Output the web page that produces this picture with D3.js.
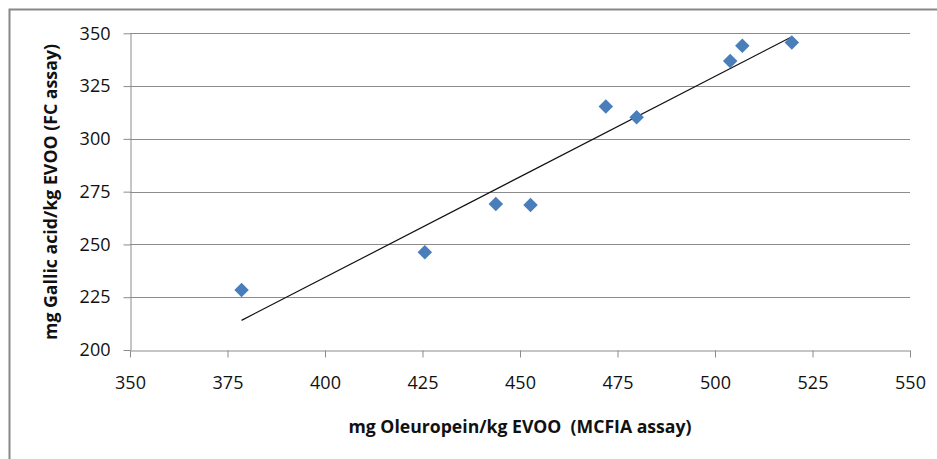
<!DOCTYPE html>
<html><head><meta charset="utf-8">
<script src="https://cdn.jsdelivr.net/npm/d3@7"></script>
<style>html,body{margin:0;padding:0;background:#fff;}svg{display:block;}</style>
</head><body>
<script>
const oleuropein = [378.6, 425.6, 443.8, 452.7, 472.0, 479.9, 503.9, 507.0, 519.7];
const gallicAcid = [228.4, 246.3, 269.2, 268.7, 315.3, 310.2, 336.9, 344.1, 345.7];
const xTicks = [350, 375, 400, 425, 450, 475, 500, 525, 550];
const yTicks = [200, 225, 250, 275, 300, 325, 350];
const xTitle = "mg Oleuropein/kg EVOO  (MCFIA assay)";
const yTitle = "mg Gallic acid/kg EVOO (FC assay)";

const W = 937, H = 459;
const svg = d3.select("body").append("svg").attr("width", W).attr("height", H);
const font = "'Open Sans', 'Noto Sans', sans-serif";

// outer frame
svg.append("rect").attr("x", 9.5).attr("y", 9.5).attr("width", W + 20).attr("height", H + 20)
  .attr("fill", "none").attr("stroke", "#878787").attr("stroke-width", 2);

const x = d3.scaleLinear().domain([350, 550]).range([130, 910]);
const y = d3.scaleLinear().domain([200, 350]).range([350, 33.3]);

// gridlines
svg.append("g").selectAll("line").data(yTicks.filter(t => t !== 200)).join("line")
  .attr("x1", x(350)).attr("x2", x(550))
  .attr("y1", d => Math.round(y(d)) + 0.5).attr("y2", d => Math.round(y(d)) + 0.5)
  .attr("stroke", "#8c8c8c").attr("stroke-width", 1);

// axes
const xAxis = svg.append("g").attr("transform", `translate(0,${Math.round(y(200)) + 0.5})`)
  .call(d3.axisBottom(x).tickValues(xTicks).tickSize(7).tickPadding(19).tickSizeOuter(0));
const yAxis = svg.append("g").attr("transform", `translate(${x(350) + 0.5},0)`)
  .call(d3.axisLeft(y).tickValues(yTicks).tickSize(7).tickPadding(13).tickSizeOuter(0));
[xAxis, yAxis].forEach(g => {
  g.select(".domain").attr("stroke", "#8c8c8c");
  g.selectAll(".tick line").attr("stroke", "#8c8c8c");
  g.selectAll(".tick text").attr("fill", "#111").style("font-family", font).style("font-size", "18px");
});

// trend line (least squares)
const mx = d3.mean(oleuropein), my = d3.mean(gallicAcid);
const sxy = d3.sum(oleuropein, (v, i) => (v - mx) * (gallicAcid[i] - my));
const sxx = d3.sum(oleuropein, v => (v - mx) ** 2);
const slope = sxy / sxx, icpt = my - slope * mx;
const [xmin, xmax] = d3.extent(oleuropein);
svg.append("line")
  .attr("x1", x(xmin)).attr("y1", y(icpt + slope * xmin))
  .attr("x2", x(xmax)).attr("y2", y(icpt + slope * xmax))
  .attr("stroke", "#111").attr("stroke-width", 1.2);

// markers
const sym = d3.symbol(d3.symbolSquare, 105);
svg.append("g").selectAll("path").data(oleuropein).join("path")
  .attr("d", sym)
  .attr("transform", (d, i) => `translate(${x(d)},${y(gallicAcid[i])}) rotate(45)`)
  .attr("fill", "#4a7ebb");

// titles
svg.append("text").attr("x", 520).attr("y", 433).attr("text-anchor", "middle")
  .attr("font-family", font).attr("font-weight", "bold").attr("font-size", 17)
  .attr("textLength", 343).attr("lengthAdjust", "spacingAndGlyphs")
  .attr("fill", "#111").attr("xml:space", "preserve").text(xTitle);
svg.append("text").attr("transform", "translate(57,192) rotate(-90)").attr("text-anchor", "middle")
  .attr("font-family", font).attr("font-weight", "bold").attr("font-size", 17)
  .attr("textLength", 296).attr("lengthAdjust", "spacingAndGlyphs")
  .attr("fill", "#111").text(yTitle);
</script>
</body></html>
